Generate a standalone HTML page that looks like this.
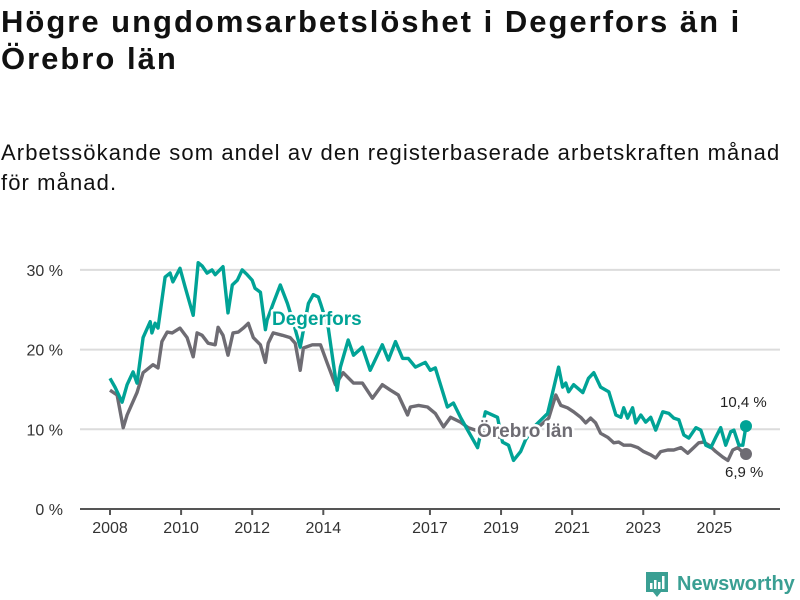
<!DOCTYPE html>
<html><head><meta charset="utf-8">
<style>
body{margin:0;background:#fff;width:800px;height:600px;overflow:hidden;font-family:"Liberation Sans","DejaVu Sans",sans-serif;color:#111}
#title{position:absolute;left:1px;top:3px;font-size:31px;font-weight:bold;line-height:37px;margin:0;letter-spacing:2px;white-space:nowrap}
#subtitle{position:absolute;left:1px;top:138px;font-size:22px;line-height:30px;margin:0;letter-spacing:1.1px;white-space:nowrap}
svg{position:absolute;left:0;top:0}
</style></head>
<body>
<h1 id="title">Högre ungdomsarbetslöshet i Degerfors än i<br>Örebro län</h1>
<p id="subtitle">Arbetssökande som andel av den registerbaserade arbetskraften månad<br>för månad.</p>
<svg id="chart" width="800" height="600"></svg>
<script>
const yTicks=[0,10,20,30];
const yTickLabels=["0 %","10 %","20 %","30 %"];
const xTicks=[2008,2010,2012,2014,2017,2019,2021,2023,2025];
const xTickLabels=["2008","2010","2012","2014","2017","2019","2021","2023","2025"];
const degYears=[2008.00,2008.14,2008.34,2008.48,2008.65,2008.76,2008.93,2009.13,2009.18,2009.27,2009.35,2009.55,2009.69,2009.77,2009.97,2010.11,2010.34,2010.48,2010.59,2010.73,2010.87,2010.96,2011.18,2011.32,2011.44,2011.58,2011.72,2011.86,2012.00,2012.08,2012.23,2012.37,2012.42,2012.59,2012.79,2012.99,2013.15,2013.35,2013.58,2013.72,2013.86,2013.92,2014.14,2014.39,2014.48,2014.70,2014.85,2015.10,2015.32,2015.66,2015.83,2016.03,2016.23,2016.39,2016.59,2016.87,2017.01,2017.15,2017.49,2017.66,2017.86,2018.06,2018.34,2018.56,2018.90,2019.04,2019.21,2019.35,2019.55,2019.69,2019.97,2020.31,2020.45,2020.62,2020.73,2020.82,2020.90,2021.04,2021.30,2021.46,2021.61,2021.80,2022.03,2022.23,2022.37,2022.45,2022.56,2022.70,2022.79,2022.93,2023.07,2023.21,2023.35,2023.55,2023.72,2023.86,2024.00,2024.14,2024.28,2024.48,2024.62,2024.76,2024.90,2025.04,2025.18,2025.32,2025.46,2025.55,2025.69,2025.80,2025.89];
const degValues=[16.4,15.3,13.4,15.6,17.2,15.8,21.5,23.5,22.1,23.3,22.7,29.1,29.6,28.5,30.2,27.9,24.3,30.9,30.5,29.6,30.0,29.4,30.4,24.6,28.1,28.7,30.0,29.4,28.7,27.7,27.2,22.5,23.7,25.8,28.1,25.8,23.5,20.3,25.8,26.9,26.6,25.8,22.7,14.9,17.8,21.2,19.3,20.3,17.4,20.6,18.7,21.0,18.9,18.9,17.8,18.4,17.4,17.7,12.8,13.3,11.5,9.9,7.7,12.2,11.5,8.4,8.0,6.1,7.2,8.7,10.5,12.0,14.6,17.8,15.3,15.8,14.7,15.6,14.6,16.4,17.1,15.3,14.7,11.8,11.5,12.7,11.4,12.7,10.8,11.8,10.9,11.5,9.9,12.2,12.0,11.4,11.2,9.3,8.9,10.2,9.9,8.0,7.7,9.0,10.2,8.0,9.7,9.9,8.0,8.0,10.4];
const orYears=[2008.00,2008.20,2008.37,2008.48,2008.76,2008.93,2009.21,2009.35,2009.46,2009.61,2009.75,2009.97,2010.17,2010.34,2010.45,2010.59,2010.76,2010.96,2011.04,2011.18,2011.32,2011.46,2011.61,2011.75,2011.89,2012.03,2012.23,2012.37,2012.45,2012.59,2012.85,2013.07,2013.21,2013.35,2013.44,2013.69,2013.92,2014.11,2014.34,2014.56,2014.85,2015.10,2015.38,2015.66,2015.89,2016.11,2016.37,2016.45,2016.68,2016.93,2017.15,2017.38,2017.58,2017.86,2018.08,2018.42,2018.70,2018.99,2019.27,2019.55,2019.83,2020.11,2020.34,2020.54,2020.68,2020.87,2021.04,2021.24,2021.38,2021.52,2021.66,2021.80,2022.00,2022.17,2022.31,2022.45,2022.65,2022.85,2023.01,2023.21,2023.35,2023.49,2023.69,2023.86,2024.06,2024.25,2024.42,2024.56,2024.70,2024.85,2025.04,2025.24,2025.38,2025.52,2025.66,2025.83,2025.89];
const orValues=[14.9,14.3,10.2,11.8,14.6,17.1,18.1,17.7,21.0,22.2,22.1,22.7,21.5,19.1,22.1,21.8,20.8,20.6,22.8,21.8,19.3,22.1,22.2,22.7,23.3,21.5,20.6,18.4,20.8,22.1,21.8,21.5,20.8,17.4,20.2,20.6,20.6,18.3,15.6,17.1,15.8,15.8,13.9,15.6,14.9,14.3,11.8,12.8,13.0,12.8,12.0,10.3,11.5,10.9,10.2,9.7,9.2,9.0,9.4,9.7,9.9,10.5,11.4,14.3,13.0,12.7,12.2,11.5,10.8,11.4,10.8,9.5,9.0,8.3,8.4,8.0,8.0,7.7,7.2,6.8,6.4,7.2,7.4,7.4,7.7,7.0,7.7,8.3,8.4,8.0,7.2,6.5,6.1,7.4,7.7,7.0,6.9];

const NS="http://www.w3.org/2000/svg";
const svg=document.getElementById('chart');
const X0=80,X1=780,Y0=509;
const xs=y=>110+(y-2008)*35.55;
const ys=v=>Y0-v*7.97;
function mk(tag,attrs,parent){const e=document.createElementNS(NS,tag);for(const k in attrs)e.setAttribute(k,attrs[k]);(parent||svg).appendChild(e);return e;}

yTicks.forEach((t,i)=>{
  if(t>0){const g=mk('line',{x1:X0,x2:X1,y1:ys(t),y2:ys(t),stroke:'#dcdcdc','stroke-width':2});
  
  }
  const l=mk('text',{x:63,y:ys(t)+6,'text-anchor':'end','font-size':16,fill:'#333'});
  l.textContent=yTickLabels[i];
  
  
});
const ax=mk('line',{x1:X0,x2:X1,y1:Y0,y2:Y0,stroke:'#555','stroke-width':2});


xTicks.forEach((t,i)=>{
  const tk=mk('line',{x1:xs(t),x2:xs(t),y1:Y0,y2:Y0+6,stroke:'#555','stroke-width':2});
  
  
  const l=mk('text',{x:xs(t),y:Y0+24,'text-anchor':'middle','font-size':16,fill:'#333'});
  l.textContent=xTickLabels[i];
  
  
});
function line(years,vals,color,name){
  const d=years.map((y,i)=>(i?'L':'M')+xs(y).toFixed(1)+' '+ys(vals[i]).toFixed(1)).join(' ');
  const p=mk('path',{d:d,fill:'none',stroke:color,'stroke-width':3.4,'stroke-linejoin':'round'});
  
  
  const n=years.length-1;
  const c=mk('circle',{cx:xs(years[n]),cy:ys(vals[n]),r:6,fill:color});
  
  
}
line(orYears,orValues,'#6e6c73','orebro-line');
line(degYears,degValues,'#00a396','degerfors-line');

function lab(txt,x,y,color,name,size,bold){
  const t=mk('text',{x:x,y:y,'font-size':size,'font-weight':bold?'bold':'normal',fill:color,stroke:'#fff','stroke-width':bold?5:0,'paint-order':'stroke','stroke-linejoin':'round'});
  t.textContent=txt;
  
  
}
lab('Degerfors',272,325,'#00a396','degerfors-label',19,true);
lab('Örebro län',477,437,'#6e6c73','orebro-label',19,true);
const n1=degYears.length-1, n2=orYears.length-1;
lab('10,4 %',720,ys(degValues[n1])-19,'#222','degerfors-value-label',15,false);
lab('6,9 %',725,ys(orValues[n2])+23,'#222','orebro-value-label',15,false);

const g=mk('g',{});


mk('path',{d:'M646 572 h22 v20 h-7 l-4 5 l-4 -5 h-7 z',fill:'#3a9f93'},g);
mk('rect',{x:650,y:583,width:2.5,height:6,fill:'#fff'},g);
mk('rect',{x:654,y:580,width:2.5,height:9,fill:'#fff'},g);
mk('rect',{x:658,y:582,width:2.5,height:7,fill:'#fff'},g);
mk('rect',{x:662,y:576,width:2.5,height:13,fill:'#fff'},g);
const lt=mk('text',{x:677,y:590,'font-size':20,'font-weight':'bold',fill:'#3a9f93'},g);
lt.textContent='Newsworthy';
</script>
</body></html>
